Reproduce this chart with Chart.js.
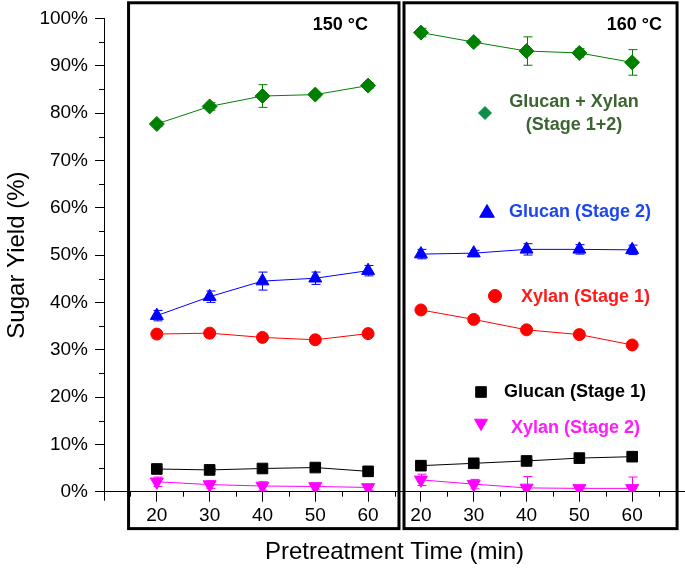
<!DOCTYPE html>
<html>
<head>
<meta charset="utf-8">
<script src="https://cdn.jsdelivr.net/npm/chart.js@4.4.0/dist/chart.umd.min.js"></script>
<style>
  html, body { margin: 0; padding: 0; background: #fff; }
  #wrap { width: 685px; height: 571px; }
</style>
</head>
<body>
<div id="wrap"><canvas id="myChart" width="685" height="571"></canvas></div>
<script>
// pretreatment times (min), same for both temperatures
const times = [20, 30, 40, 50, 60];
const panelTitles = ['150 °C', '160 °C'];
const yTicks = [0, 10, 20, 30, 40, 50, 60, 70, 80, 90, 100];
const yMinorTicks = [5, 15, 25, 35, 45, 55, 65, 75, 85, 95];
const xMinorTimes = [15, 25, 35, 45, 55];

const seriesNames = ['Glucan (Stage 1)', 'Xylan (Stage 2)', 'Xylan (Stage 1)', 'Glucan (Stage 2)', 'Glucan + Xylan (Stage 1+2)'];

// 150 °C yields (%)
const glucan1_150 = [4.8, 4.6, 4.9, 5.1, 4.3];
const xylan2_150 = [2.1, 1.5, 1.2, 1.1, 0.9];
const xylan1_150 = [33.3, 33.5, 32.6, 32.1, 33.4];
const glucan2_150 = [37.2, 41.2, 44.5, 45.1, 46.7];
const total_150 = [77.7, 81.4, 83.6, 83.9, 85.8];

// 160 °C yields (%)
const glucan1_160 = [5.5, 6.0, 6.5, 7.1, 7.4];
const xylan2_160 = [2.5, 1.6, 0.8, 0.7, 0.7];
const xylan1_160 = [38.4, 36.4, 34.2, 33.2, 31.0];
const glucan2_160 = [50.2, 50.4, 51.2, 51.2, 51.1];
const total_160 = [97.0, 95.0, 93.1, 92.7, 90.7];

// error bars (+/-)
const glucan1_150_err = [0.3, 0.3, 0.3, 0.3, 0.3];
const xylan2_150_err = [1.0, 0.8, 0.9, 0.7, 0.6];
const xylan1_150_err = [0.3, 0.3, 0.3, 0.3, 0.3];
const glucan2_150_err = [1.1, 1.2, 1.9, 1.3, 1.1];
const total_150_err = [0.5, 0.8, 2.4, 0.5, 0.6];
const glucan1_160_err = [0.3, 0.3, 0.3, 0.3, 0.3];
const xylan2_160_err = [1.2, 1.0, 2.4, 0.6, 2.4];
const xylan1_160_err = [0.3, 0.3, 0.3, 0.3, 0.3];
const glucan2_160_err = [1.0, 0.6, 1.2, 1.0, 1.0];
const total_160_err = [0.9, 0.6, 3.0, 0.9, 2.7];

// second panel sits 50 min to the right on the shared axis
const panelOffset = 50;

const styles = [
  { color: '#000000', pointStyle: 'rect', radius: 7.5, rotation: 0 },
  { color: '#ff00ff', pointStyle: 'triangle', radius: 7.5, rotation: 180 },
  { color: '#ff0000', pointStyle: 'circle', radius: 6, rotation: 0 },
  { color: '#0000ff', pointStyle: 'triangle', radius: 7.5, rotation: 0 },
  { color: '#008000', pointStyle: 'rectRot', radius: 7.5, rotation: 0 }
];

const panels = [
  { offset: 0, values: [glucan1_150, xylan2_150, xylan1_150, glucan2_150, total_150],
    errors: [glucan1_150_err, xylan2_150_err, xylan1_150_err, glucan2_150_err, total_150_err] },
  { offset: panelOffset, values: [glucan1_160, xylan2_160, xylan1_160, glucan2_160, total_160],
    errors: [glucan1_160_err, xylan2_160_err, xylan1_160_err, glucan2_160_err, total_160_err] }
];

const datasets = [];
panels.forEach((p, pi) => {
  p.values.forEach((vals, si) => {
    const st = styles[si];
    datasets.push({
      label: seriesNames[si] + ' ' + panelTitles[pi],
      data: times.map((t, i) => ({ x: t + p.offset, y: vals[i] })),
      errors: p.errors[si],
      borderColor: st.color,
      backgroundColor: st.color,
      borderWidth: 1,
      pointStyle: st.pointStyle,
      pointRadius: st.radius,
      pointRotation: st.rotation,
      pointBorderWidth: 1,
      tension: 0
    });
  });
});

const xTickValues = panels.flatMap(p => times.map(t => t + p.offset));
const xMinorValues = panels.flatMap(p => xMinorTimes.map(t => t + p.offset)).concat([65 + panelOffset]);

Chart.defaults.font.family = '"Liberation Sans", Arial, sans-serif';
Chart.defaults.color = '#000';

const legendLayout = [
  { s: 4, mx: 485, my: 113, r: 6.5, fill: '#0e8c4a', text: ['Glucan + Xylan', '(Stage 1+2)'], tx: 574, ty: 102, align: 'center', color: '#3b6631' },
  { s: 3, mx: 487, my: 213, r: 8.5, fill: '#0000ff', text: [seriesNames[3]], tx: 509, ty: 212, align: 'left', color: '#1e46f0' },
  { s: 2, mx: 495, my: 296, r: 6.5, fill: '#ff0000', text: [seriesNames[2]], tx: 521, ty: 297, align: 'left', color: '#ff1a1a' },
  { s: 0, mx: 481, my: 392, r: 7.5, fill: '#000000', text: [seriesNames[0]], tx: 504, ty: 392, align: 'left', color: '#000000' },
  { s: 1, mx: 481, my: 423, r: 7.5, fill: '#ff00ff', text: [seriesNames[1]], tx: 511, ty: 428, align: 'left', color: '#ff1aff' }
];

const decor = {
  id: 'decor',
  beforeDatasetsDraw(chart) {
    const { ctx, chartArea, scales: { x, y } } = chart;
    ctx.save();
    ctx.beginPath();
    ctx.rect(chartArea.left, chartArea.top - 10, chartArea.right - chartArea.left, chartArea.bottom - chartArea.top + 10);
    ctx.clip();
    chart.data.datasets.forEach(ds => {
      ctx.strokeStyle = ds.borderColor;
      ctx.lineWidth = 1;
      ctx.beginPath();
      ds.data.forEach((p, i) => {
        const e = ds.errors[i];
        const px = Math.round(x.getPixelForValue(p.x)) + 0.5;
        const top = y.getPixelForValue(p.y + e);
        const bot = y.getPixelForValue(p.y - e);
        ctx.moveTo(px, top); ctx.lineTo(px, bot);
        ctx.moveTo(px - 4, top); ctx.lineTo(px + 5, top);
        ctx.moveTo(px - 4, bot); ctx.lineTo(px + 5, bot);
      });
      ctx.stroke();
    });
    ctx.restore();
  },
  afterDraw(chart) {
    const { ctx, chartArea, scales: { x, y } } = chart;
    ctx.save();
    // minor ticks and y axis stub below zero
    ctx.strokeStyle = '#000';
    ctx.lineWidth = 1;
    ctx.beginPath();
    xMinorValues.forEach(v => {
      const px = Math.round(x.getPixelForValue(v)) + 0.5;
      ctx.moveTo(px, chartArea.bottom); ctx.lineTo(px, chartArea.bottom + 5);
    });
    yMinorTicks.forEach(v => {
      const py = Math.round(y.getPixelForValue(v)) + 0.5;
      ctx.moveTo(chartArea.left - 5, py); ctx.lineTo(chartArea.left, py);
    });
    const ax = Math.round(chartArea.left) + 0.5;
    ctx.moveTo(ax, chartArea.bottom); ctx.lineTo(ax, chartArea.bottom + 9);
    ctx.stroke();

    // panel frames
    ctx.lineWidth = 3;
    const top = y.getPixelForValue(103.3), bottom = y.getPixelForValue(-7.8);
    [[14.65, 65.85], [66.8, 118.5]].forEach(([a, b]) => {
      const l = x.getPixelForValue(a), r = x.getPixelForValue(b);
      ctx.strokeRect(l, top, r - l, bottom - top);
    });

    // panel titles
    ctx.fillStyle = '#000';
    ctx.font = 'bold 18px "Liberation Sans", Arial, sans-serif';
    ctx.textAlign = 'right';
    ctx.textBaseline = 'middle';
    ctx.fillText(panelTitles[0], 368, 25);
    ctx.fillText(panelTitles[1], 662, 25);

    // legend
    legendLayout.forEach(item => {
      const st = styles[item.s];
      ctx.fillStyle = item.fill;
      ctx.strokeStyle = item.fill;
      ctx.lineWidth = 1;
      Chart.helpers.drawPoint(ctx, { pointStyle: st.pointStyle, radius: item.r, rotation: st.rotation, borderWidth: 1 }, item.mx, item.my);
      ctx.fillStyle = item.color;
      ctx.textAlign = item.align;
      item.text.forEach((line, li) => ctx.fillText(line, item.tx, item.ty + li * 23));
    });
    ctx.restore();
  }
};

new Chart(document.getElementById('myChart').getContext('2d'), {
  type: 'line',
  data: { datasets },
  options: {
    responsive: false,
    animation: false,
    events: [],
    layout: { autoPadding: false, padding: { top: 18, right: 0, left: 0, bottom: 0 } },
    plugins: { legend: { display: false }, tooltip: { enabled: false } },
    scales: {
      x: {
        type: 'linear', min: 10, max: 120,
        afterBuildTicks: s => { s.ticks = xTickValues.map(v => ({ value: v })); },
        afterFit: s => { s.height = 79.3; },
        border: { color: '#000', width: 1 },
        grid: { drawOnChartArea: false, tickLength: 10, color: '#000' },
        ticks: { padding: 3, color: '#000', font: { size: 19 }, maxRotation: 0, autoSkip: false,
          callback: v => (v > 65 ? v - panelOffset : v) },
        title: { display: true, text: 'Pretreatment Time (min)', color: '#000', font: { size: 24 }, padding: { top: 4, bottom: 4 } }
      },
      y: {
        min: 0, max: 100,
        afterBuildTicks: s => { s.ticks = yTicks.map(v => ({ value: v })); },
        afterFit: s => { s.width = 104; },
        border: { color: '#000', width: 1 },
        grid: { drawOnChartArea: false, tickLength: 9, color: '#000' },
        ticks: { padding: 7, color: '#000', font: { size: 19 }, callback: v => v + '%' },
        title: { display: true, text: 'Sugar Yield (%)', color: '#000', font: { size: 24 }, padding: { top: 3, bottom: 0 } }
      }
    }
  },
  plugins: [decor]
});
</script>
</body>
</html>
